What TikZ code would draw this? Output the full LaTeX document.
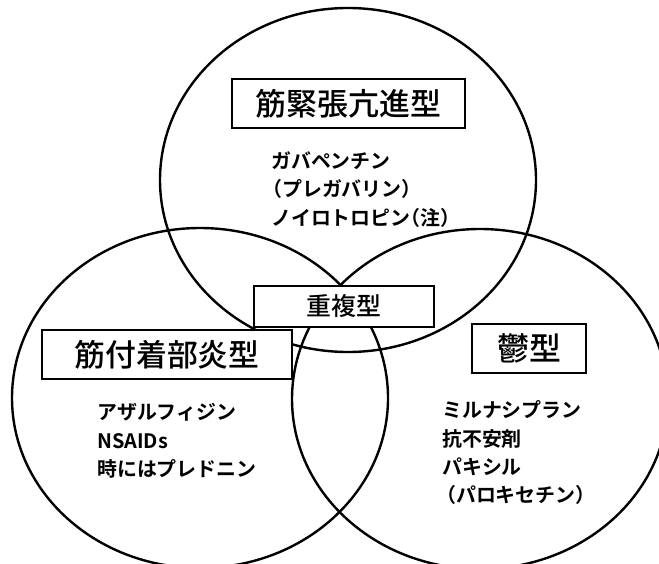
\documentclass[tikz,border=0pt]{standalone}
\usepackage{fontspec}
\setmainfont{Noto Sans CJK JP Medium}
\newfontfamily\itemfont{Noto Sans CJK JP Bold}
\newfontfamily\halffont{Noto Sans CJK JP Bold}[RawFeature=+halt]
\begin{document}
\begin{tikzpicture}[x=1bp,y=-1bp,
  ring/.style={line width=2.4bp},
  label/.style={draw,fill=white,line width=1.3bp,inner sep=0pt,font=\fontsize{31}{31}\selectfont},
  item/.style={anchor=base west,inner sep=0pt,font=\fontsize{20}{20}\selectfont\itemfont}]
\useasboundingbox (0,0) rectangle (659,564);
\clip (0,0) rectangle (659,564);
\fill[white] (0,0) rectangle (659,564);
\draw[ring] (348,180) ellipse [x radius=188, y radius=172];
\draw[ring] (200,398) ellipse [x radius=188, y radius=170];
\draw[ring] (480,399) ellipse [x radius=188, y radius=170];
\node[label,minimum width=233bp,minimum height=49bp] (kin) at (348.5,103.5) {筋緊張亢進型};
\node[label,minimum width=250bp,minimum height=49bp] (fuchaku) at (167,354.5) {筋付着部炎型};
\node[label,minimum width=114bp,minimum height=49bp,font=\fontsize{32}{32}\selectfont] (utsu) at (529,348.5) {鬱型};
\node[label,minimum width=180bp,minimum height=41bp,font=\fontsize{25}{25}\selectfont] (chofuku) at (344,306.5) {重複型};
\node[item] (t1) at (271,169) {ガバペンチン};
\node[item] (t2) at (272,197) {\halffont（プレガバリン）};
\node[item] (t3) at (271,225) {ノイロトロピン{\halffont（注）}};
\node[item] (l1) at (97,419) {アザルフィジン};
\node[item] (l2) at (97,448) {NSAIDs};
\node[item] (l3) at (97,476) {時にはプレドニン};
\node[item] (r1) at (442,417) {ミルナシプラン};
\node[item] (r2) at (442,446) {抗不安剤};
\node[item] (r3) at (442,474) {パキシル};
\node[item] (r4) at (436,502) {（パロキセチン）};
\end{tikzpicture}
\end{document}
